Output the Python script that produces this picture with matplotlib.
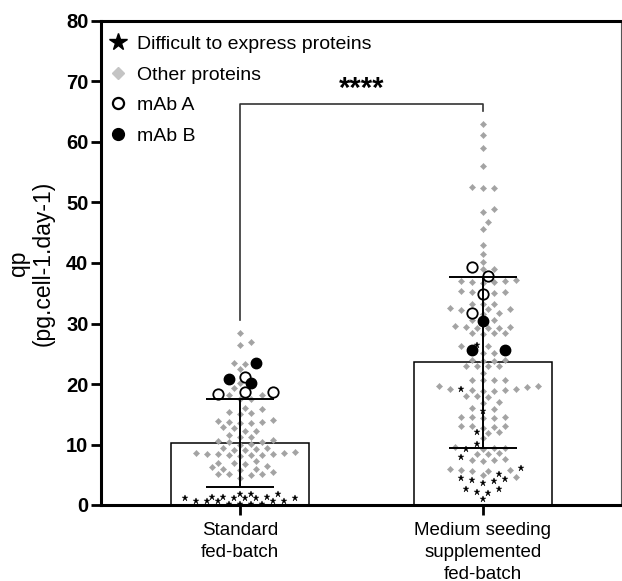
import numpy as np
import matplotlib.pyplot as plt
from matplotlib.lines import Line2D

plt.rcParams['font.family'] = ['Liberation Sans', 'DejaVu Sans']

# categorias e barras (media +- DP)
grupos = ['Standard\nfed-batch', 'Medium seeding\nsupplemented\nfed-batch']
medias = [10.2, 23.6]
desvios = [7.3, 14.1]

# grupo 1: Standard fed-batch
std_dte = [1.9, 1.9, 1.9, 1.4, 1.4, 1.4, 1.1, 1.1, 1.1, 1.1, 1.1,
           0.6, 0.6, 0.6, 0.6, 0.6, 0.2, 0.2, 0.2, 0.2]
std_outras = [28.5, 26.9, 26.5, 23.4, 23.3, 22.5, 20.2, 19.3, 18.1, 18.1,
              17.6, 17.5, 16.0, 15.9, 15.4, 15.2, 15.1, 14.1, 13.9, 13.8,
              13.7, 13.6, 13.5, 12.9, 12.7, 12.3, 12.3, 11.6, 11.3, 11.3,
              10.8, 10.6, 10.4, 10.4, 10.1, 10.0, 9.5, 9.4, 9.3, 9.1, 9.1,
              8.7, 8.6, 8.6, 8.5, 8.4, 8.4, 8.3, 8.3, 8.2, 8.1, 7.3, 7.0,
              6.9, 6.7, 6.5, 6.2, 6.0, 6.0, 5.8, 5.5, 5.1, 5.1, 5.1, 5.0, 4.4]
std_mab_a = [18.6, 18.6, 21.1, 18.3]
std_mab_b = [23.5, 20.2, 20.8]

# grupo 2: Medium seeding supplemented fed-batch
msf_dte = [26.4, 19.1, 15.6, 12.0, 10.1, 9.2, 8.0, 6.1, 5.1, 4.5, 4.3,
           4.1, 4.0, 3.6, 2.6, 2.6, 2.1, 2.0, 1.0]
msf_outras = [63.0, 61.2, 59.0, 56.1, 52.6, 52.4, 52.4, 49.0, 48.4, 46.7,
              45.6, 42.9, 41.5, 40.2, 39.0, 39.0, 37.2, 37.1, 37.0, 36.9,
              36.8, 36.7, 35.3, 35.2, 35.2, 35.1, 33.3, 33.3, 33.2, 32.5,
              32.4, 32.4, 32.3, 31.7, 31.6, 30.6, 30.6, 29.6, 29.5, 29.4,
              29.3, 29.2, 29.2, 28.5, 28.4, 28.4, 28.3, 26.2, 26.2, 25.2,
              25.1, 23.9, 23.9, 23.8, 23.8, 23.0, 23.0, 22.9, 22.9, 21.8,
              20.7, 20.7, 20.6, 20.6, 19.6, 19.6, 19.5, 19.1, 19.1, 19.0,
              19.0, 18.9, 18.9, 18.0, 18.0, 17.9, 17.0, 16.9, 16.0, 15.9,
              14.6, 14.5, 14.5, 14.4, 14.3, 13.1, 13.0, 13.0, 12.9, 12.8,
              12.1, 11.9, 11.0, 9.6, 9.5, 9.4, 9.3, 8.6, 8.5, 8.4, 7.6,
              7.5, 7.4, 7.3, 5.9, 5.8, 5.8, 5.7, 5.6, 4.9, 4.7]
msf_mab_a = [39.3, 37.8, 34.9, 31.8]
msf_mab_b = [30.4, 25.6, 25.6]

cinza = '#a3a3a3'
estilos = {
    'dte': dict(marker='*', color='black', ms=4.5, mec='black', mew=0.3),
    'outras': dict(marker='D', color=cinza, ms=3.2, mec=cinza, mew=0.3),
    'mab_a': dict(marker='o', color='white', ms=7.5, mec='black', mew=1.3),
    'mab_b': dict(marker='o', color='black', ms=7.5, mec='black', mew=1.0),
}


def enxame(valores, px_x=243.0, px_y=6.05, passo=5.5, dmin=7.2):
    # espalha os pontos na horizontal (tipo GraphPad) para nao sobrepor
    valores = np.asarray(valores, float)
    ordem = np.argsort(valores, kind='stable')
    colocados = []
    desloc = np.zeros(len(valores))
    ks = [0] + [s * k for k in range(1, 60) for s in (1, -1)]
    for i in ordem:
        y = valores[i] * px_y
        for k in ks:
            x = k * passo
            if all((x - a) ** 2 + (y - b) ** 2 >= dmin ** 2 for a, b in colocados):
                break
        colocados.append((x, y))
        desloc[i] = x / px_x
    return desloc


fig = plt.figure(figsize=(6.22, 5.81), dpi=100)
ax = fig.add_axes([101 / 622, 1 - 505 / 581, 520 / 622, 484 / 581])

pos = np.arange(len(grupos))
ax.bar(pos, medias, width=0.564, color='white', edgecolor='black',
       linewidth=1.1, zorder=1)

dados = [
    {'dte': std_dte, 'outras': std_outras, 'mab_a': std_mab_a, 'mab_b': std_mab_b},
    {'dte': msf_dte, 'outras': msf_outras, 'mab_a': msf_mab_a, 'mab_b': msf_mab_b},
]
for g, d in enumerate(dados):
    tipos = []
    vals = []
    for nome in ['dte', 'outras', 'mab_a', 'mab_b']:
        tipos += [nome] * len(d[nome])
        vals += list(d[nome])
    dx = enxame(vals)
    tipos = np.array(tipos)
    vals = np.array(vals)
    for nome in ['outras', 'dte', 'mab_a', 'mab_b']:
        m = tipos == nome
        ax.plot(pos[g] + dx[m], vals[m], ls='none', zorder=2, **estilos[nome])

ax.errorbar(pos, medias, yerr=desvios, fmt='none', ecolor='black',
            elinewidth=1.4, capsize=24.5, capthick=1.4, zorder=3)

# barra de significancia
ax.plot([0, 0, 1, 1], [30.6, 66.3, 66.3, 65.2], color='#333333', lw=1.2, zorder=3)
ax.text(0.5, 66.4, '****', ha='center', va='bottom', fontsize=21,
        fontweight='bold')

ax.set_xlim(-0.572, 1.568)
ax.set_ylim(0, 80)
ax.set_yticks(np.arange(0, 81, 10))
ax.set_xticks(pos)
ax.set_xticklabels(grupos, fontsize=13.5, linespacing=1.38)
for t in ax.get_yticklabels():
    t.set_fontweight('bold')
    t.set_fontsize(14.5)
ax.tick_params(axis='y', length=7, width=2, pad=2)
ax.tick_params(axis='x', length=7, width=2, pad=5)
ax.set_ylabel('qp\n(pg.cell-1.day-1)', fontsize=16.5, labelpad=8,
              linespacing=1.1)

for lado in ['left', 'bottom', 'top']:
    ax.spines[lado].set_linewidth(2.2)
ax.spines['right'].set_linewidth(0.8)
ax.spines['right'].set_color('#555555')

alcas = [
    Line2D([], [], ls='none', marker='*', color='black', ms=13),
    Line2D([], [], ls='none', marker='D', color='#c4c4c4', ms=6.5),
    Line2D([], [], ls='none', marker='o', mfc='white', mec='black', mew=1.6, ms=8),
    Line2D([], [], ls='none', marker='o', color='black', ms=8.5),
]
rotulos = ['Difficult to express proteins', 'Other proteins', 'mAb A', 'mAb B']
ax.legend(alcas, rotulos, loc='upper left', bbox_to_anchor=(-0.004, 0.99),
          frameon=False, fontsize=14, handlelength=1.0, handletextpad=0.45,
          labelspacing=0.66, borderaxespad=0.3, borderpad=0.2)

fig.savefig('out.png', dpi=100)
